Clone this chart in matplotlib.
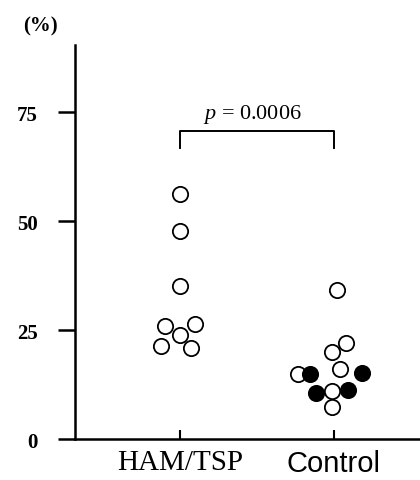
import matplotlib
matplotlib.use("Agg")
import matplotlib.pyplot as plt

plt.rcParams["mathtext.fontset"] = "custom"
plt.rcParams["mathtext.rm"] = "Liberation Serif"
plt.rcParams["mathtext.it"] = "Liberation Serif:italic"

# Percentages per subject
groups = ["HAM/TSP", "Control"]
ham_values = [56.3, 47.8, 35.2, 26.0, 26.3, 23.9, 21.4, 20.8]
control_values = [34.3, 22.1, 19.9, 16.0, 15.0, 15.0, 15.1, 11.3, 11.0, 10.5, 7.3]
control_filled = [False, False, False, False, False, True, True, True, False, True, False]
y_ticks = [0, 25, 50, 75]
p_label = "$p$ = 0.0006"

# Horizontal spread of overlapping points within each column
ham_jitter = [0.0, 0.0, 0.0, -0.10, 0.095, 0.0, -0.12, 0.075]
control_jitter = [0.018, 0.076, -0.015, 0.039, -0.234, -0.156, 0.182, 0.091, -0.015, -0.117, -0.015]

fig = plt.figure(figsize=(4.2, 4.81), dpi=100)
ax = fig.add_axes([0.1786, 0.0852, 0.8214, 0.8192])

ms = 11
for v, dx in zip(ham_values, ham_jitter):
    ax.plot(1 + dx, v, "o", ms=ms, mfc="white", mec="black", mew=1.3, zorder=3)
for v, dx, f in zip(control_values, control_jitter, control_filled):
    ax.plot(2 + dx, v, "o", ms=ms, mfc="black" if f else "white",
            mec="black", mew=1.3, zorder=3)

# Significance bracket
ax.plot([1, 1, 2, 2], [66.7, 70.7, 70.7, 66.7], color="black", lw=1.4, clip_on=False)
ax.text(1.47, 72.0, p_label, ha="center", va="bottom", fontsize=16,
        family="Liberation Serif")

ax.set_xlim(0.318, 2.56)
ax.set_ylim(0, 90.4)

for s in ["top", "right"]:
    ax.spines[s].set_visible(False)
ax.spines["left"].set_linewidth(1.8)
ax.spines["bottom"].set_linewidth(1.8)

ax.set_yticks(y_ticks)
ax.set_yticklabels([str(t) for t in y_ticks], family="Liberation Serif",
                   fontsize=15, fontweight="bold")
ax.tick_params(axis="y", direction="out", length=12, width=1.8, pad=15)

ax.set_xticks([1, 2])
ax.set_xticklabels(["", ""])
ax.tick_params(axis="x", direction="in", length=6.5, width=1.5, pad=8)
ax.text(1, -2.2, groups[0], ha="center", va="top", fontsize=21,
        family="Liberation Serif", transform=ax.transData)
ax.text(2, -2.2, groups[1], ha="center", va="top", fontsize=21,
        family="Liberation Sans", transform=ax.transData)

fig.text(40 / 420, 1 - 26 / 481, "(%)", ha="center", va="center", fontsize=15,
         family="Liberation Serif", fontweight="bold")

fig.savefig("out.png", dpi=100)
